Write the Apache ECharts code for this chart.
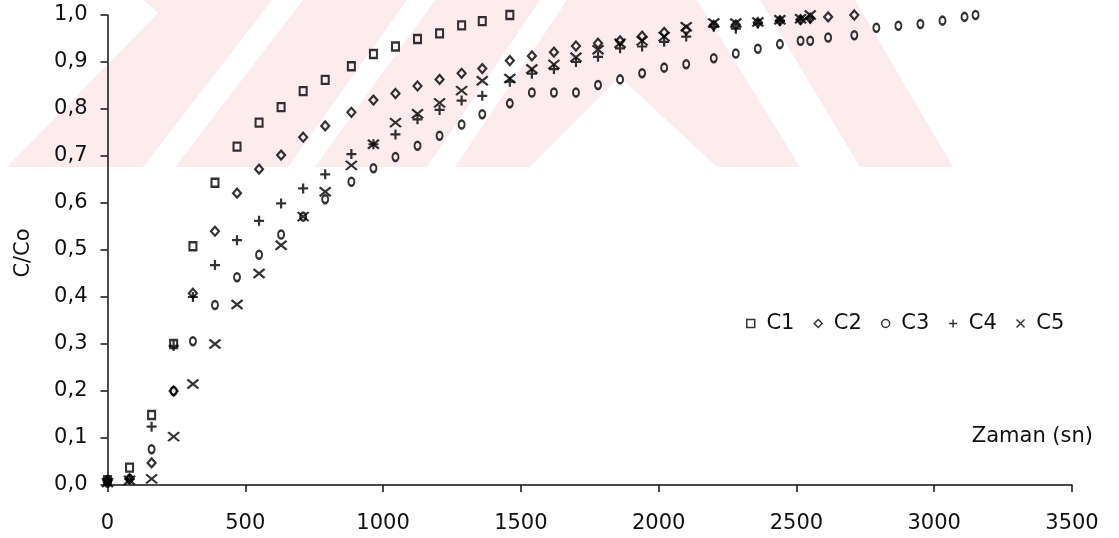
<!DOCTYPE html>
<html>
<head>
<meta charset="utf-8">
<script src="https://cdn.jsdelivr.net/npm/echarts@6/dist/echarts.min.js"></script>
<style>
  html, body { margin: 0; padding: 0; background: #fff; }
  #chart { width: 1119px; height: 538px; }
</style>
</head>
<body>
<div id="chart"></div>
<script>
// zaman (sn) - ölçüm anları
var times = [0, 80, 160, 240, 310, 390, 470, 550, 630, 710, 790, 885, 965, 1045, 1125, 1205,
  1285, 1360, 1460, 1540, 1620, 1700, 1780, 1860, 1940, 2020, 2100, 2200, 2280, 2360, 2440,
  2515, 2550, 2615, 2710, 2790, 2870, 2950, 3030, 3110, 3150];

// C/Co değerleri
var c1 = [0.01, 0.037, 0.149, 0.30, 0.508, 0.643, 0.72, 0.771, 0.804, 0.838, 0.862, 0.891,
  0.917, 0.933, 0.949, 0.961, 0.978, 0.987, 1.0];
var c2 = [0.01, 0.013, 0.047, 0.20, 0.408, 0.54, 0.621, 0.672, 0.702, 0.74, 0.764, 0.793,
  0.819, 0.833, 0.849, 0.863, 0.876, 0.886, 0.903, 0.913, 0.921, 0.934, 0.94, 0.945, 0.955,
  0.963, 0.968, 0.978, 0.979, 0.984, 0.988, 0.99, 0.993, 0.996, 1.0];
var c3 = [0.005, 0.013, 0.076, 0.20, 0.306, 0.383, 0.442, 0.49, 0.533, 0.571, 0.608, 0.645,
  0.674, 0.698, 0.722, 0.743, 0.767, 0.789, 0.812, 0.835, 0.835, 0.835, 0.851, 0.863, 0.876,
  0.888, 0.895, 0.908, 0.918, 0.928, 0.938, 0.945, 0.945, 0.952, 0.957, 0.973, 0.977, 0.981,
  0.988, 0.996, 1.0];
var c4 = [0.01, 0.013, 0.124, 0.296, 0.40, 0.468, 0.521, 0.562, 0.599, 0.631, 0.661, 0.704,
  0.725, 0.746, 0.778, 0.798, 0.818, 0.828, 0.858, 0.875, 0.885, 0.90, 0.911, 0.929, 0.933,
  0.943, 0.954, 0.975, 0.971, 0.982, 0.987, 0.99, 0.993];
var c5 = [0.005, 0.01, 0.013, 0.103, 0.215, 0.30, 0.384, 0.45, 0.51, 0.571, 0.624, 0.68,
  0.725, 0.771, 0.79, 0.813, 0.839, 0.86, 0.865, 0.885, 0.895, 0.91, 0.926, 0.94, 0.945,
  0.954, 0.975, 0.983, 0.983, 0.985, 0.99, 0.992, 1.0];

var seriesNames = ['C1', 'C2', 'C3', 'C4', 'C5'];
var xTicks = [0, 500, 1000, 1500, 2000, 2500, 3000, 3500];

var FONT = 'DejaVu Sans';
var INK = '#111';
var MARK = '#000';

var symbols = [
  { symbol: 'rect', size: [7, 8] },
  { symbol: 'diamond', size: [8, 9] },
  { symbol: 'circle', size: [6, 8] },
  { symbol: 'path://M5,0L5,10M0,5L10,5', size: [10, 10] },
  { symbol: 'path://M0,0L10,10M10,0L0,10', size: [11, 9] }
];
var legendIcons = ['rect', 'diamond', 'circle', 'path://M5,0L5,10M0,5L10,5', 'path://M0,0L10,10M10,0L0,10'];

function pairs(vals) {
  return vals.map(function (v, i) { return [times[i], v]; });
}

var allValues = [c1, c2, c3, c4, c5];

var series = allValues.map(function (vals, i) {
  return {
    name: seriesNames[i],
    type: 'scatter',
    data: pairs(vals),
    symbol: symbols[i].symbol,
    symbolSize: symbols[i].size,
    itemStyle: { color: 'rgba(0,0,0,0)', borderColor: MARK, borderWidth: 2.2 },
    emphasis: { disabled: true },
    z: 3
  };
});

// soluk pembe filigran (arka plan)
var pink = '#fdecef';
var wm = [
  [[7, 167], [158, 13], [143, 0], [272, 0], [143, 167]],
  [[175, 167], [303, 0], [407, 0], [288, 167]],
  [[315, 167], [435, 0], [540, 0], [427, 167]],
  [[455, 167], [567, 0], [697, 0], [800, 167], [717, 167], [620, 77], [530, 167]],
  [[760, 0], [855, 0], [953, 167], [860, 167]]
];
var graphics = wm.map(function (pts) {
  return { type: 'polygon', shape: { points: pts }, style: { fill: pink }, silent: true, z: -10 };
});
graphics.push({
  type: 'text', x: 24, y: 253, rotation: Math.PI / 2, silent: true,
  style: { text: 'C/Co', font: '21px "' + FONT + '"', fill: INK, textAlign: 'center', textVerticalAlign: 'middle' }
});
graphics.push({
  type: 'text', x: 1093, y: 437, silent: true,
  style: { text: 'Zaman (sn)', font: '21px "' + FONT + '"', fill: INK, textAlign: 'right', textVerticalAlign: 'middle' }
});

var chart = echarts.init(document.getElementById('chart'), null, { renderer: 'canvas' });
chart.setOption({
  animation: false,
  backgroundColor: '#fff',
  grid: { left: 107.5, right: 47, top: 15, bottom: 53 },
  graphic: graphics,
  legend: {
    left: 741, top: 308,
    itemWidth: 8, itemHeight: 8, itemGap: 19,
    formatter: function (n) { return ' ' + n; },
    textStyle: { fontFamily: FONT, fontSize: 21, color: INK },
    data: seriesNames.map(function (n, i) {
      return {
        name: n, icon: legendIcons[i],
        itemStyle: { color: 'rgba(0,0,0,0)', borderColor: MARK, borderWidth: 1.5 }
      };
    })
  },
  xAxis: {
    type: 'value', min: 0, max: 3500, interval: 500,
    axisLine: { show: true, onZero: false, lineStyle: { color: INK, width: 1.5 } },
    axisTick: { show: true, inside: false, length: 7, lineStyle: { color: INK, width: 1.5 } },
    axisLabel: {
      margin: 28, fontFamily: FONT, fontSize: 21, color: INK,
      formatter: function (v) { return xTicks.indexOf(v) >= 0 ? String(v) : ''; }
    },
    splitLine: { show: false }
  },
  yAxis: {
    type: 'value', min: 0, max: 1, interval: 0.1,
    axisLine: { show: true, onZero: false, lineStyle: { color: INK, width: 1.5 } },
    axisTick: { show: true, inside: false, length: 7, lineStyle: { color: INK, width: 1.5 } },
    axisLabel: {
      margin: 20, fontFamily: FONT, fontSize: 21, color: INK,
      formatter: function (v) { return v.toFixed(1).replace('.', ','); }
    },
    splitLine: { show: false }
  },
  series: series
});
</script>
</body>
</html>
